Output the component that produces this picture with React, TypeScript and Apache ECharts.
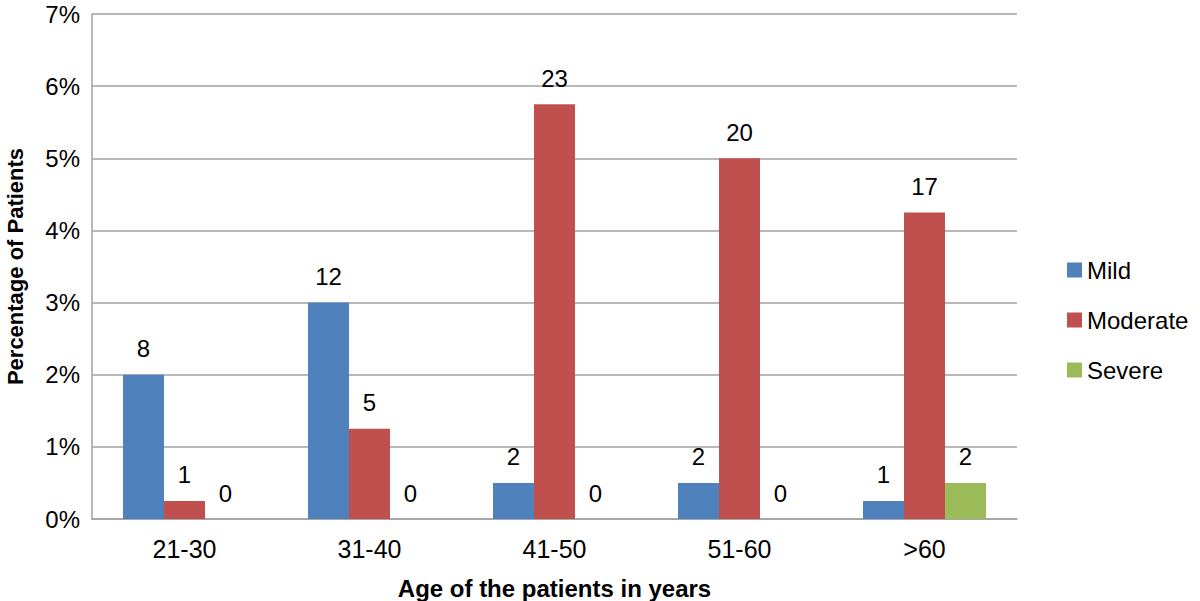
import React, { useEffect, useRef } from "react";
import * as echarts from "echarts";

const categories = ["21-30", "31-40", "41-50", "51-60", ">60"];
const mildPct = [2, 3, 0.5, 0.5, 0.25];
const moderatePct = [0.25, 1.25, 5.75, 5, 4.25];
const severePct = [0, 0, 0, 0, 0.5];
const mildCount = [8, 12, 2, 2, 1];
const moderateCount = [1, 5, 23, 20, 17];
const severeCount = [0, 0, 0, 0, 2];
const yTicks = [0, 1, 2, 3, 4, 5, 6, 7];
const seriesNames = ["Mild", "Moderate", "Severe"];

const FONT = "'Liberation Sans', Arial, sans-serif";

export default function App() {
  const ref = useRef<HTMLDivElement>(null);
  useEffect(() => {
    if (!ref.current) return;
    const chart = echarts.init(ref.current, null, { renderer: "svg" });
    const mkSeries = (name: string, data: number[], counts: number[], color: string) => ({
      name,
      type: "bar",
      data,
      barWidth: 41,
      barGap: "0%",
      itemStyle: { color },
      label: {
        show: true,
        position: "top",
        distance: 14,
        color: "#000",
        fontFamily: FONT,
        fontSize: 24,
        formatter: (p: any) => String(counts[p.dataIndex]),
      },
    });
    chart.setOption({
      animation: false,
      backgroundColor: "#fff",
      textStyle: { fontFamily: FONT },
      grid: {
        left: 92,
        right: 183,
        top: 14,
        bottom: 82,
        containLabel: false,
        outerBoundsMode: "none",
      },
      legend: {
        data: seriesNames,
        left: 1062,
        top: 253,
        orient: "vertical",
        icon: "rect",
        itemWidth: 15,
        itemHeight: 15,
        itemGap: 26,
        textStyle: { fontFamily: FONT, fontSize: 24, color: "#000" },
      },
      xAxis: {
        type: "category",
        data: categories,
        axisLine: { show: true, lineStyle: { color: "#A0A0A0", width: 1.5 } },
        axisTick: { show: false },
        axisLabel: { color: "#000", fontFamily: FONT, fontSize: 25, margin: 17 },
        name: "Age of the patients in years",
        nameLocation: "middle",
        nameGap: 57,
        nameTextStyle: { color: "#000", fontFamily: FONT, fontSize: 24, fontWeight: "bold" },
      },
      yAxis: {
        type: "value",
        min: yTicks[0],
        max: yTicks[yTicks.length - 1],
        interval: 1,
        axisLine: { show: true, lineStyle: { color: "#A0A0A0", width: 1.5 } },
        axisTick: { show: false },
        splitLine: { show: true, lineStyle: { color: "#A0A0A0", width: 1.5 } },
        axisLabel: {
          color: "#000",
          fontFamily: FONT,
          fontSize: 24,
          lineHeight: 24,
          margin: 12,
          formatter: (v: number) => `${v}%`,
        },
        name: "Percentage of Patients",
        nameLocation: "middle",
        nameGap: 66,
        nameRotate: 90,
        nameTextStyle: { color: "#000", fontFamily: FONT, fontSize: 22, fontWeight: "bold" },
      },
      series: [
        mkSeries(seriesNames[0], mildPct, mildCount, "#4F81BD"),
        mkSeries(seriesNames[1], moderatePct, moderateCount, "#C0504D"),
        mkSeries(seriesNames[2], severePct, severeCount, "#9BBB59"),
      ],
    });
    return () => chart.dispose();
  }, []);
  return (
    <div
      ref={ref}
      style={{ position: "fixed", left: 0, top: 0, width: 1200, height: 601 }}
    />
  );
}
